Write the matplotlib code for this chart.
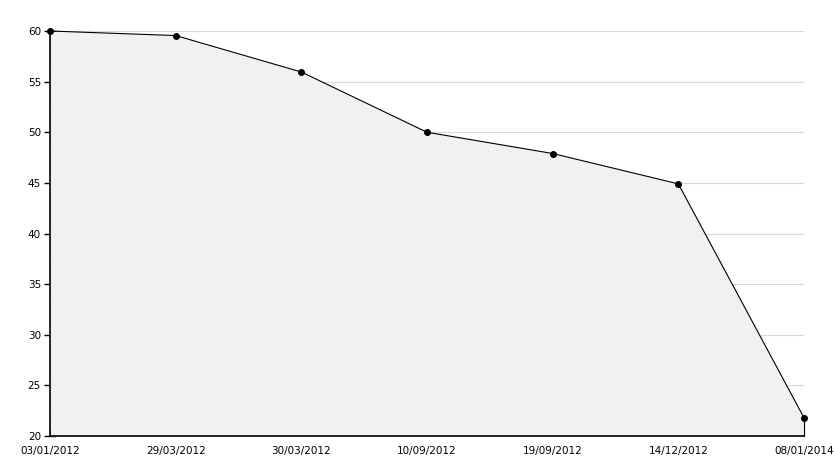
import numpy as np
import matplotlib.pyplot as plt
from matplotlib.ticker import MultipleLocator

# data
dates = ["03/01/2012", "29/03/2012", "30/03/2012", "10/09/2012",
         "19/09/2012", "14/12/2012", "08/01/2014"]
values = [60, 59.55, 55.95, 50, 47.9, 44.9, 21.8]

fig = plt.figure(figsize=(8.34, 4.68), dpi=100)
ax = fig.add_axes([50 / 834, 1 - 436 / 468, 754 / 834, 405 / 468])

x = np.arange(len(dates))
ax.set_xlim(x[0], x[-1])
ax.set_ylim(20, 60)

# grid under the filled area
ax.yaxis.set_major_locator(MultipleLocator(5))
ax.yaxis.set_minor_locator(MultipleLocator(1))
ax.grid(axis='y', which='major', color='#d8d8d8', linewidth=0.8, zorder=0)
ax.set_axisbelow(True)

ax.fill_between(x, 20, values, color='#f1f1f1', zorder=1, linewidth=0)
ax.plot(x, values, color='black', linewidth=0.8, marker='o', markersize=4, zorder=3,
        clip_on=False)
ax.plot([x[-1], x[-1]], [20, values[-1]], color='black', linewidth=0.8, zorder=3,
        clip_on=False)

for side in ['top', 'right']:
    ax.spines[side].set_visible(False)
for side in ['left', 'bottom']:
    ax.spines[side].set_linewidth(1.2)
    ax.spines[side].set_zorder(4)

ax.set_xticks(x)
ax.set_xticklabels(dates)
ax.tick_params(axis='x', direction='in', length=6, width=0.8, labelsize=7.5, pad=7)
ax.tick_params(axis='y', which='major', direction='inout', length=9, width=1,
               labelsize=7.5, pad=2)
ax.tick_params(axis='y', which='minor', direction='in', length=5, width=1)

plt.savefig("out.png", dpi=100)
plt.close()
